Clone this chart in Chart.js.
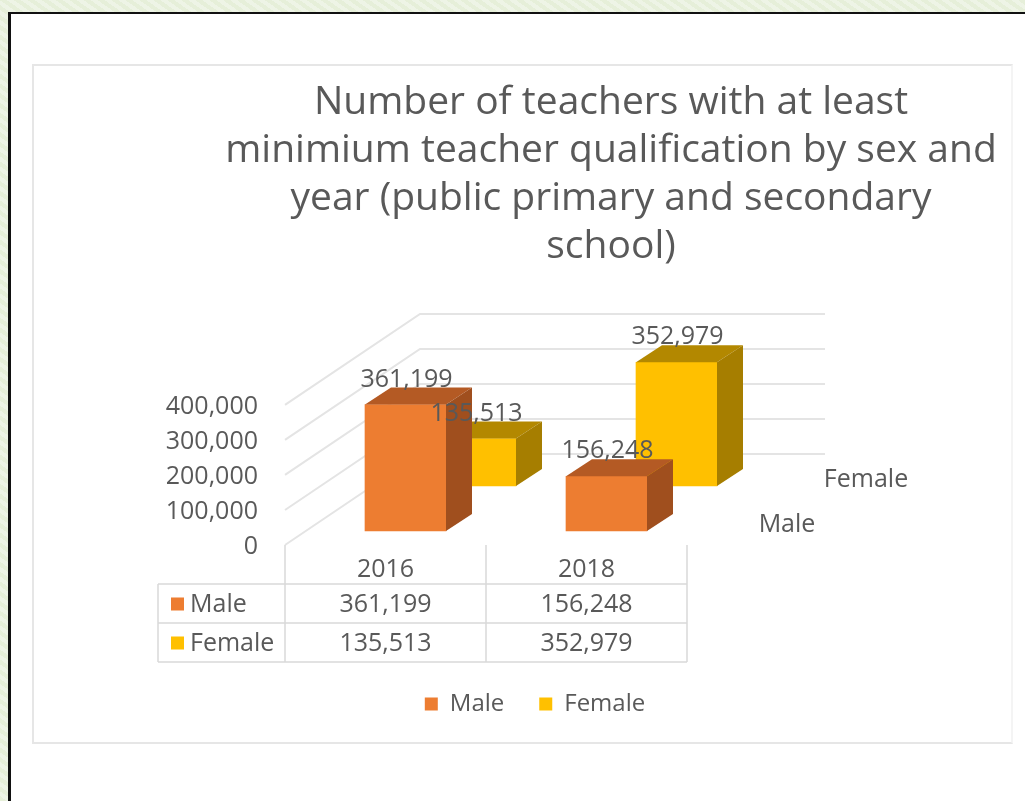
<!DOCTYPE html>
<html><head><meta charset="utf-8">
<style>
html,body{margin:0;padding:0;width:1025px;height:801px;overflow:hidden;background:#e9f1df;
background-image:repeating-linear-gradient(35deg,#e6efd9 0 4px,#eef4e6 4px 8px);}
#frame{position:absolute;left:8px;top:12px;width:1017px;height:789px;background:#fff;border-left:3px solid #111;border-top:2px solid #111;box-sizing:border-box;}
#box{position:absolute;left:32px;top:64px;width:981px;height:680px;border:2px solid #e6e6e6;box-sizing:border-box;border-right-color:#f4f4f4;}
#wrap{position:absolute;left:0;top:0;width:1025px;height:801px;}
</style></head><body>
<div id="frame"></div><div id="box"></div>
<div id="wrap"><canvas id="c" width="1025" height="801"></canvas></div>
<script src="https://cdn.jsdelivr.net/npm/chart.js@4/dist/chart.umd.min.js"></script>
<script>
const categories = ["2016","2018"];
const maleValues = [361199,156248];
const femaleValues = [135513,352979];
const seriesNames = ["Male","Female"];
const titleLines = ["Number of teachers with at least","minimium teacher qualification by sex and","year (public primary and secondary","school)"];
const yTicks = [0,100000,200000,300000,400000];

const TEXT="#595959", FONT="'Open Sans'", FS=25;
const fmt=v=>v.toLocaleString("en-US");
// per-series placement in the pseudo-3D floor (offset of each row of bars)
const rows=[{dx:20,dy:-14,side:"#A04F1E",top:"#B45A24"},{dx:90,dy:-59,side:"#A67E00",top:"#B38800"}];
const DEPTH={x:26,y:-17};

const threeD={
 id:"threeD",
 afterLayout(chart){
   const t=chart.titleBlock; t.left=197; t.right=1025; t.top=79;
   const l=chart.legend; l.left=0; l.right=1070; l.top=703-11-35;
 },
 beforeDatasetsDraw(chart){
   const {ctx,scales:{x,y}}=chart;
   ctx.save();
   ctx.strokeStyle="#e4e4e4"; ctx.lineWidth=2;
   yTicks.forEach(v=>{
     const py=y.getPixelForValue(v);
     ctx.beginPath();
     ctx.moveTo(x.left,py);
     ctx.lineTo(x.left+135,py-91);
     ctx.lineTo(825,py-91);
     ctx.stroke();
   });
   // data table
   const b=y.bottom, xs=[158,x.left,x.getPixelForValue(0)+ (x.getPixelForValue(1)-x.getPixelForValue(0))/2,x.right];
   const rowsY=[584,623,662];
   ctx.strokeStyle="#d9d9d9"; ctx.lineWidth=1.5;
   rowsY.forEach(r=>{ctx.beginPath();ctx.moveTo(xs[0],r);ctx.lineTo(xs[3],r);ctx.stroke();});
   ctx.beginPath();ctx.moveTo(xs[0],rowsY[0]);ctx.lineTo(xs[0],rowsY[2]);ctx.stroke();
   xs.slice(1).forEach(px=>{ctx.beginPath();ctx.moveTo(px,b);ctx.lineTo(px,rowsY[2]);ctx.stroke();});
   ctx.fillStyle=TEXT; ctx.font=FS+"px "+FONT; ctx.textBaseline="middle";
   [maleValues,femaleValues].forEach((vals,i)=>{
     const cy=(rowsY[i]+rowsY[i+1])/2;
     ctx.fillStyle=chart.data.datasets[i].backgroundColor;
     ctx.fillRect(171,cy-6,13,13);
     ctx.fillStyle=TEXT; ctx.textAlign="left";
     ctx.fillText(seriesNames[i],190,cy+1);
     ctx.textAlign="center";
     vals.forEach((v,j)=>ctx.fillText(fmt(v),x.getPixelForValue(j),cy+1));
   });
   // depth axis names
   ctx.textAlign="center";
   ctx.fillText(seriesNames[1],866,480);
   ctx.fillText(seriesNames[0],787,525);
   ctx.restore();
 },
 beforeDatasetDraw(chart,args){
   const r=rows[args.index];
   chart.ctx.save();
   chart.ctx.translate(r.dx,r.dy);
 },
 afterDatasetDraw(chart,args){
   const ctx=chart.ctx, r=rows[args.index];
   args.meta.data.forEach(bar=>{
     const {x,y,base,width}=bar.getProps(["x","y","base","width"],true);
     const R=x+width/2,L=x-width/2;
     ctx.fillStyle=r.top;
     ctx.beginPath();ctx.moveTo(L,y);ctx.lineTo(L+DEPTH.x,y+DEPTH.y);ctx.lineTo(R+DEPTH.x,y+DEPTH.y);ctx.lineTo(R,y);ctx.closePath();ctx.fill();
     ctx.fillStyle=r.side;
     ctx.beginPath();ctx.moveTo(R,y);ctx.lineTo(R+DEPTH.x,y+DEPTH.y);ctx.lineTo(R+DEPTH.x,base+DEPTH.y);ctx.lineTo(R,base);ctx.closePath();ctx.fill();
   });
   ctx.restore();
 },
 afterDatasetsDraw(chart){
   const ctx=chart.ctx;
   ctx.save();
   ctx.fillStyle=TEXT; ctx.font=FS+"px "+FONT; ctx.textAlign="center"; ctx.textBaseline="middle";
   chart.data.datasets.forEach((ds,i)=>{
     const m=chart.getDatasetMeta(i), r=rows[i];
     m.data.forEach((bar,j)=>{
       ctx.fillText(fmt(ds.data[j]),bar.x+r.dx+1,bar.y+r.dy-25);
     });
   });
   ctx.restore();
 }
};

new Chart(document.getElementById("c"),{
 type:"bar",
 data:{labels:categories,datasets:[
   {label:seriesNames[0],data:maleValues,backgroundColor:"#ED7D31",clip:false},
   {label:seriesNames[1],data:femaleValues,backgroundColor:"#FFC000",clip:false}
 ]},
 options:{
  responsive:false,animation:false,
  datasets:{bar:{grouped:false,barThickness:81,borderWidth:0}},
  layout:{padding:{left:0,right:338,top:76,bottom:0}},
  plugins:{
   tooltip:{enabled:false},
   title:{display:true,text:titleLines,color:TEXT,font:{family:FONT,size:39,weight:"normal",lineHeight:1.23},padding:{top:0,bottom:137}},
   legend:{position:"bottom",maxHeight:40,labels:{boxWidth:13,boxHeight:13,color:TEXT,font:{family:FONT,size:24},padding:35}}
  },
  scales:{
   x:{grid:{display:false},border:{display:false},
      ticks:{color:TEXT,font:{family:FONT,size:FS},padding:2},
      afterFit(s){s.height=216;}},
   y:{min:0,max:400000,grid:{display:false},border:{display:false},
      ticks:{stepSize:100000,color:TEXT,font:{family:FONT,size:FS},padding:19,labelOffset:2,callback:v=>fmt(v)},
      afterFit(s){s.width=285;}}
  }
 },
 plugins:[threeD]
});
</script>
</body></html>
